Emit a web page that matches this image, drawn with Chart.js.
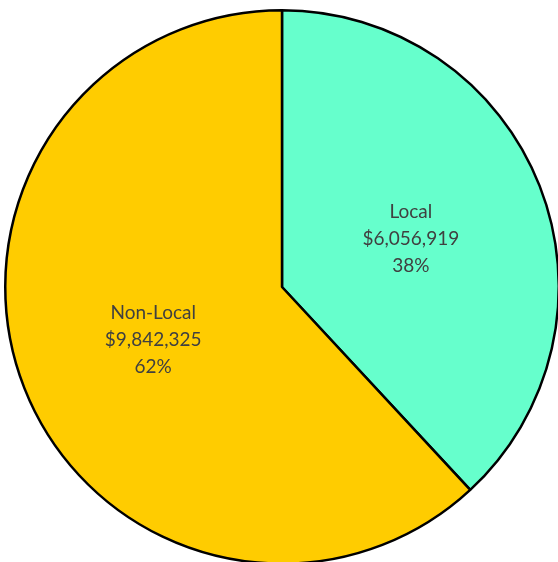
<!DOCTYPE html>
<html>
<head>
<meta charset="utf-8">
<script src="https://cdn.jsdelivr.net/npm/chart.js@4/dist/chart.umd.min.js"></script>
<style>
  html, body { margin: 0; padding: 0; background: #fff; overflow: hidden; width: 558px; height: 562px; }
  #wrap { position: absolute; left: 0; top: 0; width: 564px; height: 574px; }
</style>
</head>
<body>
<div id="wrap"><canvas id="chart" width="564" height="574"></canvas></div>
<script>
const categories = ['Local', 'Non-Local'];
const amounts = [6056919, 9842325];
const percents = ['38%', '62%'];
const sliceColors = ['#66FFCC', '#FFCC00'];

// draws the three-line label at the middle of each slice
const sliceLabels = {
    id: 'sliceLabels',
    afterDatasetsDraw(chart) {
        const ctx = chart.ctx;
        const meta = chart.getDatasetMeta(0);
        ctx.save();
        ctx.fillStyle = '#404040';
        ctx.font = '19px Lato, "Open Sans", sans-serif';
        ctx.textAlign = 'center';
        ctx.textBaseline = 'middle';
        meta.data.forEach((arc, i) => {
            const pos = arc.tooltipPosition();
            const lines = [categories[i], '$' + amounts[i].toLocaleString('en-US'), percents[i]];
            lines.forEach((t, j) => ctx.fillText(t, pos.x, pos.y + 2 + (j - 1) * 27));
        });
        ctx.restore();
    }
};

new Chart(document.getElementById('chart'), {
    type: 'pie',
    data: {
        labels: categories,
        datasets: [{
            data: amounts,
            backgroundColor: sliceColors,
            borderColor: '#000',
            borderWidth: 2.5,
            hoverOffset: 0
        }]
    },
    options: {
        responsive: false,
        animation: false,
        layout: { padding: 4 },
        plugins: {
            legend: { display: false },
            tooltip: { enabled: false }
        }
    },
    plugins: [sliceLabels]
});
</script>
</body>
</html>
